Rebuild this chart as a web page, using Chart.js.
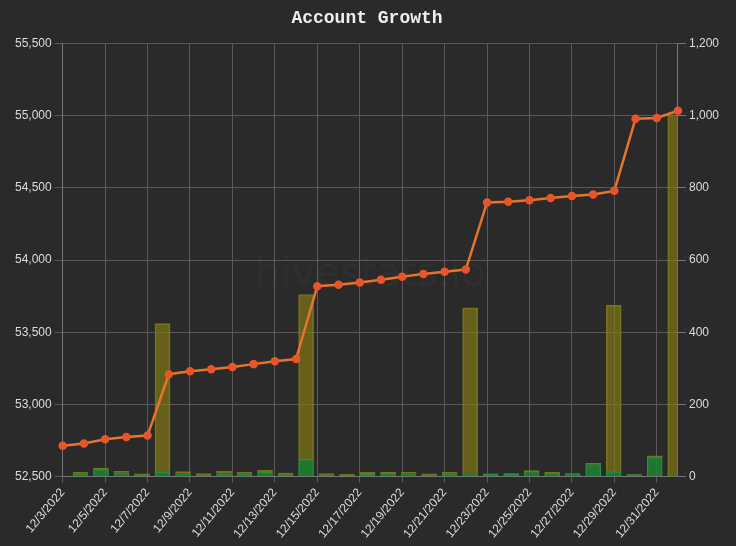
<!DOCTYPE html><html><head><script src="https://cdn.jsdelivr.net/npm/chart.js@4"></script>
<style>html,body{margin:0;background:#2a2a2b}#w{width:736px;height:546px}</style></head><body><div id="w"><canvas id="c"></canvas></div>
<script>
const dates=['12/3/2022','12/4/2022','12/5/2022','12/6/2022','12/7/2022','12/8/2022','12/9/2022','12/10/2022','12/11/2022','12/12/2022','12/13/2022','12/14/2022','12/15/2022','12/16/2022','12/17/2022','12/18/2022','12/19/2022','12/20/2022','12/21/2022','12/22/2022','12/23/2022','12/24/2022','12/25/2022','12/26/2022','12/27/2022','12/28/2022','12/29/2022','12/30/2022','12/31/2022','1/1/2023'];
const balance=[52715,52730,52760,52775,52785,53210,53230,53245,53260,53280,53300,53315,53820,53830,53845,53865,53885,53905,53920,53935,54400,54405,54415,54430,54445,54455,54480,54980,54985,55035];
const greenVals=[8,21,11,5,13,9,5,8,8,13,5,48,5,4,7,10,9,5,8,9,7,7,15,10,8,34,14,6,55,1];
const oliveVals=[4,3,4,3,411,5,4,7,5,5,5,457,4,3,5,3,3,3,5,459,1,2,2,3,1,3,461,1,3,1002];
const watermark={id:'wm',beforeDatasetsDraw(ch){const a=ch.chartArea,x=ch.ctx;x.save();x.font='40px "DejaVu Sans"';x.fillStyle='rgba(255,255,255,0.025)';x.textAlign='center';x.textBaseline='middle';x.fillText('hivestats.io',(a.left+a.right)/2,(a.top+a.bottom)/2+15);x.restore();}};
const tick={color:'#ddd',font:{family:'"Liberation Sans"',size:12}};
new Chart(document.getElementById('c'),{
 data:{labels:dates,datasets:[
  {type:'line',data:balance,yAxisID:'y',xAxisID:'x',borderColor:'#e8742c',borderWidth:2.5,pointBackgroundColor:'#e8552a',pointBorderColor:'#e8552a',pointRadius:3,tension:0,order:0},
  {type:'bar',data:greenVals,yAxisID:'y1',xAxisID:'x2',backgroundColor:'rgba(30,130,50,0.85)',borderColor:'rgba(40,160,70,0.9)',borderWidth:1,stack:'s',barThickness:15,order:1},
  {type:'bar',data:oliveVals,yAxisID:'y1',xAxisID:'x2',backgroundColor:'rgba(128,120,20,0.7)',borderColor:'rgba(140,130,30,0.8)',borderWidth:1,stack:'s',barThickness:15,order:2}
 ]},
 options:{responsive:true,maintainAspectRatio:false,animation:false,
  layout:{padding:{left:12,right:14,top:0,bottom:2}},
  plugins:{legend:{display:false},tooltip:{enabled:false},
   title:{display:true,text:'Account Growth',color:'#eee',font:{family:'"Liberation Mono"',size:18,weight:'bold'},padding:{top:8,bottom:14}}},
  scales:{
   x:{type:'category',offset:false,grid:{color:'#5a5a5a',drawTicks:true,tickLength:6},border:{color:'#777'},ticks:{...tick,maxRotation:50,minRotation:50,autoSkip:true,autoSkipPadding:4}},
   x2:{type:'category',labels:dates,offset:true,display:false,stacked:true},
   y:{position:'left',min:52500,max:55500,ticks:{...tick,stepSize:500,callback:v=>v.toLocaleString('en-US')},grid:{color:'#5a5a5a'},border:{color:'#777'}},
   y1:{position:'right',min:0,max:1200,stacked:true,ticks:{...tick,stepSize:200,callback:v=>v.toLocaleString('en-US')},grid:{drawOnChartArea:false,color:'#777'},border:{color:'#777'}}
  }}
 ,plugins:[watermark]});
</script></body></html>
